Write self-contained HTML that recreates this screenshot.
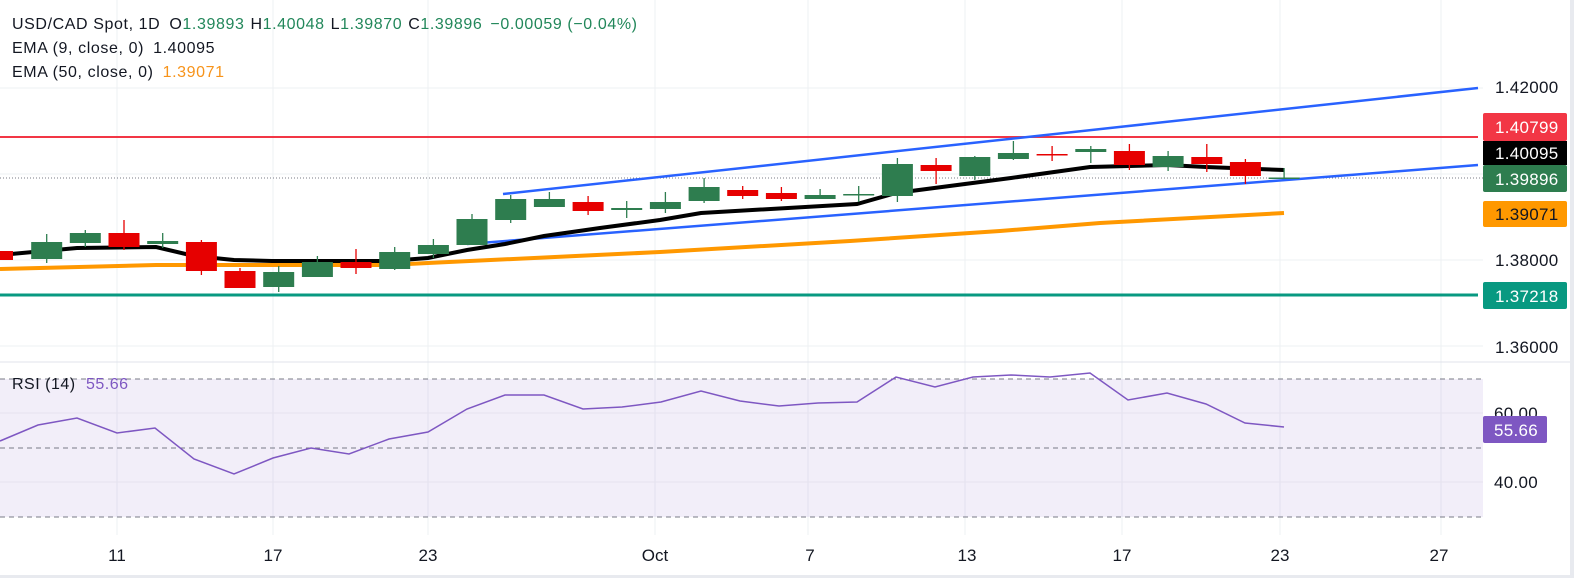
<!DOCTYPE html>
<html><head><meta charset="utf-8"><style>
html,body{margin:0;padding:0;background:#fff;}
svg{display:block;font-family:"Liberation Sans",sans-serif;}
</style></head><body>
<svg width="1574" height="578" viewBox="0 0 1574 578" xmlns="http://www.w3.org/2000/svg">
<rect width="1574" height="578" fill="#fff"/>
<g stroke="#eef0f3" stroke-width="1">
<line x1="117" y1="0" x2="117" y2="535"/><line x1="273" y1="0" x2="273" y2="535"/>
<line x1="428" y1="0" x2="428" y2="535"/><line x1="655" y1="0" x2="655" y2="535"/>
<line x1="808" y1="0" x2="808" y2="535"/><line x1="965" y1="0" x2="965" y2="535"/>
<line x1="1122" y1="0" x2="1122" y2="535"/><line x1="1280" y1="0" x2="1280" y2="535"/>
<line x1="1441" y1="0" x2="1441" y2="535"/>
<line x1="0" y1="88" x2="1483" y2="88"/><line x1="0" y1="174" x2="1483" y2="174"/>
<line x1="0" y1="260" x2="1483" y2="260"/><line x1="0" y1="346" x2="1483" y2="346"/>
</g>
<line x1="0" y1="362" x2="1574" y2="362" stroke="#e0e3eb"/>
<rect x="0" y="575" width="1574" height="3" fill="#e8eaef"/>
<rect x="1570" y="0" width="4" height="578" fill="#e8eaef"/>
<!-- RSI pane -->
<rect x="0" y="379" width="1483" height="138" fill="#7e57c2" fill-opacity="0.1"/>
<g stroke="#e6e3ee"><line x1="0" y1="413" x2="1483" y2="413"/><line x1="0" y1="482" x2="1483" y2="482"/></g>
<g stroke="#787b86" stroke-dasharray="5,4" stroke-width="1">
<line x1="0" y1="379" x2="1483" y2="379"/><line x1="0" y1="448" x2="1483" y2="448"/><line x1="0" y1="517" x2="1483" y2="517"/></g>
<polyline fill="none" stroke="#7e57c2" stroke-width="1.5" points="0,441 38,425 77,418 117,433 155,428 194,459 234,474 273,458 311,448 349,454 389,439 428,432 467,409 505,395 544,395 583,409 622,407 661,402 701,391 740,401 779,406 818,403 857,402 896,377 935,387 973,377 1011,375 1050,377 1090,373 1128,400 1167,393 1206,404 1245,423 1284,427"/>
<text x="12" y="389" font-size="16" fill="#131722" letter-spacing="0.5">RSI (14)</text>
<text x="86" y="389" font-size="16" fill="#7e57c2" letter-spacing="0.5">55.66</text>
<!-- levels -->
<line x1="0" y1="137" x2="1478" y2="137" stroke="#f23645" stroke-width="2"/>
<line x1="0" y1="295" x2="1478" y2="295" stroke="#089981" stroke-width="3"/>
<line x1="0" y1="178" x2="1483" y2="178" stroke="#787b86" stroke-dasharray="1,2"/>
<line x1="503" y1="194" x2="1478" y2="88" stroke="#2962ff" stroke-width="2.5"/>
<line x1="467" y1="244" x2="1478" y2="165" stroke="#2962ff" stroke-width="2.5"/>
<polyline fill="none" stroke="#ff9800" stroke-width="4" points="0,269 156,265 389,265 428,263 660,252 850,241 1000,231 1100,223 1284,213"/>
<polyline fill="none" stroke="#000" stroke-width="4" points="0,255 77,248 156,247 194,256 234,260 272,261 389,261 428,258 467,250 505,244 544,236 600,228 660,220 701,213 857,204 896,193 1011,178 1090,167 1167,165 1206,167 1284,170"/>
<!-- candles -->
<g stroke-width="1.3">
<line x1="8" y1="251" x2="8" y2="260" stroke="#e60000"/><rect x="-8" y="251" width="21" height="9" fill="#e60000"/>
<line x1="46.7" y1="234" x2="46.7" y2="263" stroke="#2e7d4f"/><rect x="31.2" y="242" width="31" height="17" fill="#2e7d4f"/>
<line x1="85.3" y1="230" x2="85.3" y2="247" stroke="#2e7d4f"/><rect x="69.8" y="233" width="31" height="10" fill="#2e7d4f"/>
<line x1="124" y1="220" x2="124" y2="250" stroke="#e60000"/><rect x="108.5" y="233" width="31" height="14" fill="#e60000"/>
<line x1="162.7" y1="233" x2="162.7" y2="248" stroke="#2e7d4f"/><rect x="147.2" y="241" width="31" height="3" fill="#2e7d4f"/>
<line x1="201.4" y1="240" x2="201.4" y2="275" stroke="#e60000"/><rect x="185.9" y="242" width="31" height="29" fill="#e60000"/>
<line x1="240" y1="268" x2="240" y2="288" stroke="#e60000"/><rect x="224.5" y="271" width="31" height="17" fill="#e60000"/>
<line x1="278.7" y1="266" x2="278.7" y2="292" stroke="#2e7d4f"/><rect x="263.2" y="272" width="31" height="15" fill="#2e7d4f"/>
<line x1="317.4" y1="256" x2="317.4" y2="277" stroke="#2e7d4f"/><rect x="301.9" y="262" width="31" height="15" fill="#2e7d4f"/>
<line x1="356" y1="249" x2="356" y2="274" stroke="#e60000"/><rect x="340.5" y="262" width="31" height="6" fill="#e60000"/>
<line x1="394.7" y1="247" x2="394.7" y2="270" stroke="#2e7d4f"/><rect x="379.2" y="252" width="31" height="17" fill="#2e7d4f"/>
<line x1="433.4" y1="239" x2="433.4" y2="258" stroke="#2e7d4f"/><rect x="417.9" y="245" width="31" height="9" fill="#2e7d4f"/>
<line x1="472" y1="214" x2="472" y2="245" stroke="#2e7d4f"/><rect x="456.5" y="219" width="31" height="26" fill="#2e7d4f"/>
<line x1="510.7" y1="195" x2="510.7" y2="223" stroke="#2e7d4f"/><rect x="495.2" y="199" width="31" height="21" fill="#2e7d4f"/>
<line x1="549.4" y1="192" x2="549.4" y2="207" stroke="#2e7d4f"/><rect x="533.9" y="199" width="31" height="8" fill="#2e7d4f"/>
<line x1="588.1" y1="196" x2="588.1" y2="215" stroke="#e60000"/><rect x="572.6" y="202" width="31" height="9" fill="#e60000"/>
<line x1="626.7" y1="201" x2="626.7" y2="218" stroke="#2e7d4f"/><rect x="611.2" y="208" width="31" height="2" fill="#2e7d4f"/>
<line x1="665.4" y1="192" x2="665.4" y2="213" stroke="#2e7d4f"/><rect x="649.9" y="202" width="31" height="7" fill="#2e7d4f"/>
<line x1="704.1" y1="178" x2="704.1" y2="203" stroke="#2e7d4f"/><rect x="688.6" y="187" width="31" height="14" fill="#2e7d4f"/>
<line x1="742.7" y1="186" x2="742.7" y2="199" stroke="#e60000"/><rect x="727.2" y="190" width="31" height="6" fill="#e60000"/>
<line x1="781.4" y1="187" x2="781.4" y2="201" stroke="#e60000"/><rect x="765.9" y="193" width="31" height="6" fill="#e60000"/>
<line x1="820.1" y1="189" x2="820.1" y2="199" stroke="#2e7d4f"/><rect x="804.6" y="195" width="31" height="4" fill="#2e7d4f"/>
<line x1="858.7" y1="186" x2="858.7" y2="202" stroke="#2e7d4f"/><rect x="843.2" y="194" width="31" height="1.5" fill="#2e7d4f"/>
<line x1="897.4" y1="158" x2="897.4" y2="202" stroke="#2e7d4f"/><rect x="881.9" y="164" width="31" height="32" fill="#2e7d4f"/>
<line x1="936.1" y1="158" x2="936.1" y2="184" stroke="#e60000"/><rect x="920.6" y="165" width="31" height="6" fill="#e60000"/>
<line x1="974.8" y1="156" x2="974.8" y2="180" stroke="#2e7d4f"/><rect x="959.3" y="157" width="31" height="19" fill="#2e7d4f"/>
<line x1="1013.4" y1="141" x2="1013.4" y2="160" stroke="#2e7d4f"/><rect x="997.9" y="153" width="31" height="6" fill="#2e7d4f"/>
<line x1="1052.1" y1="146" x2="1052.1" y2="161" stroke="#e60000"/><rect x="1036.6" y="154" width="31" height="1.5" fill="#e60000"/>
<line x1="1090.8" y1="146" x2="1090.8" y2="163" stroke="#2e7d4f"/><rect x="1075.3" y="149" width="31" height="3" fill="#2e7d4f"/>
<line x1="1129.4" y1="144" x2="1129.4" y2="170" stroke="#e60000"/><rect x="1113.9" y="151" width="31" height="14" fill="#e60000"/>
<line x1="1168.1" y1="151" x2="1168.1" y2="171" stroke="#2e7d4f"/><rect x="1152.6" y="156" width="31" height="11" fill="#2e7d4f"/>
<line x1="1206.8" y1="144" x2="1206.8" y2="172" stroke="#e60000"/><rect x="1191.3" y="157" width="31" height="7" fill="#e60000"/>
<line x1="1245.4" y1="159" x2="1245.4" y2="184" stroke="#e60000"/><rect x="1229.9" y="162" width="31" height="14" fill="#e60000"/>
<line x1="1284.1" y1="168" x2="1284.1" y2="178" stroke="#2e7d4f"/><rect x="1268.6" y="177.5" width="31" height="1.5" fill="#2e7d4f"/>
</g>
<!-- header -->
<g font-size="16" letter-spacing="0.6">
<text x="12" y="29" fill="#131722">USD/CAD Spot, 1D <tspan dx="4">O</tspan><tspan fill="#22875a">1.39893</tspan><tspan dx="6">H</tspan><tspan fill="#22875a">1.40048</tspan><tspan dx="6">L</tspan><tspan fill="#22875a">1.39870</tspan><tspan dx="6">C</tspan><tspan fill="#22875a">1.39896</tspan><tspan dx="8" fill="#22875a">−0.00059 (−0.04%)</tspan></text>
<text x="12" y="53" fill="#131722">EMA (9, close, 0) <tspan dx="4">1.40095</tspan></text>
<text x="12" y="77" fill="#131722">EMA (50, close, 0) <tspan dx="4" fill="#f7931a">1.39071</tspan></text>
</g>
<!-- price labels -->
<g font-size="17" letter-spacing="0.3">
<text x="1495" y="93" fill="#131722">1.42000</text>
<rect x="1483" y="113" width="84" height="28" rx="2" fill="#f23645"/><text x="1495" y="133" fill="#fff">1.40799</text>
<rect x="1483" y="141" width="84" height="24" fill="#000"/><text x="1495" y="159" fill="#fff">1.40095</text>
<rect x="1483" y="165" width="84" height="27" rx="2" fill="#2e7d4f"/><text x="1495" y="185" fill="#fff">1.39896</text>
<rect x="1483" y="201" width="84" height="26" rx="2" fill="#ff9800"/><text x="1495" y="220" fill="#131722">1.39071</text>
<text x="1495" y="266" fill="#131722">1.38000</text>
<rect x="1483" y="282" width="84" height="27" rx="2" fill="#089981"/><text x="1495" y="302" fill="#fff">1.37218</text>
<text x="1495" y="353" fill="#131722">1.36000</text>
<text x="1494" y="419" fill="#131722">60.00</text>
<rect x="1483" y="416" width="64" height="27" rx="2" fill="#7e57c2"/><text x="1494" y="436" fill="#fff">55.66</text>
<text x="1494" y="488" fill="#131722">40.00</text>
</g>
<g font-size="17" fill="#131722" text-anchor="middle">
<text x="117" y="561">11</text><text x="273" y="561">17</text><text x="428" y="561">23</text>
<text x="655" y="561">Oct</text><text x="810" y="561">7</text><text x="967" y="561">13</text>
<text x="1122" y="561">17</text><text x="1280" y="561">23</text><text x="1439" y="561">27</text>
</g>
</svg>
</body></html>
